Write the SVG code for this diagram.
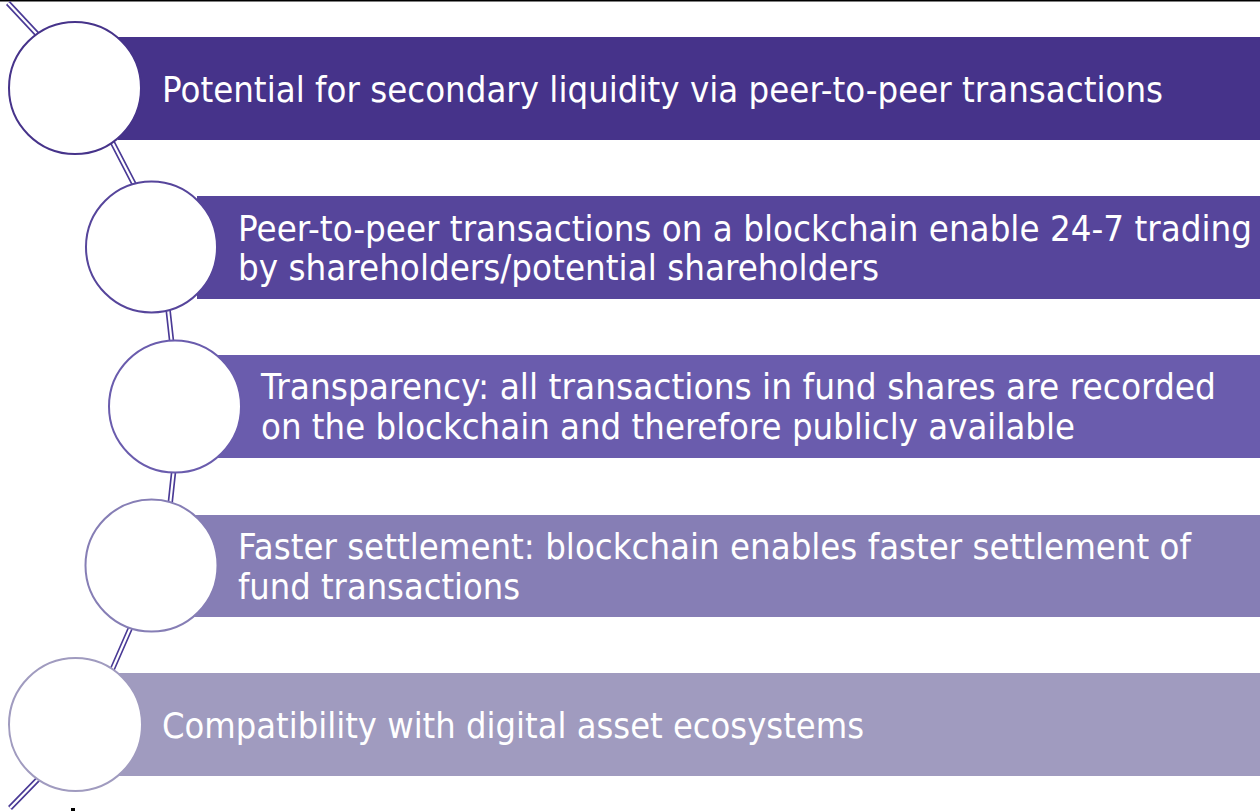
<svg xmlns="http://www.w3.org/2000/svg" width="1260" height="811" viewBox="0 0 1260 811">
<style>
.lbl{font-family:"DejaVu Sans","Liberation Sans",sans-serif;font-size:35px;fill:#ffffff}
.conn-o{stroke:#4a3a96;stroke-width:5.5;fill:none;stroke-linecap:butt}
.conn-i{stroke:#ffffff;stroke-width:2.2;fill:none;stroke-linecap:butt}
.bead{fill:#ffffff;stroke-width:2}
</style>
<rect x="0" y="0" width="1260" height="811" fill="#ffffff"/>
<rect x="0" y="0" width="1260" height="1.5" fill="#000000"/>
<g id="connectors">
  <path class="conn-o" d="M8,3 L50,48 M105,128 L135,186 M167,300 L172,345 M174,468 L170,505 M133,622 L112,670 M45,772 L10,808"/>
  <path class="conn-i" d="M8,3 L50,48 M105,128 L135,186 M167,300 L172,345 M174,468 L170,505 M133,622 L112,670 M45,772 L10,808"/>
</g>
<g id="node1">
  <rect x="118" y="37" width="1142" height="103" fill="#46338a"/>
  <circle class="bead" cx="75" cy="88" r="66" stroke="#46338a"/>
  <text class="lbl" x="162" y="101.5" textLength="1001" lengthAdjust="spacingAndGlyphs">Potential for secondary liquidity via peer-to-peer transactions</text>
</g>
<g id="node2">
  <rect x="197" y="196" width="1063" height="103" fill="#56459b"/>
  <circle class="bead" cx="151.5" cy="247" r="65.5" stroke="#56459b"/>
  <text class="lbl" x="238" y="240.5" textLength="1014" lengthAdjust="spacingAndGlyphs">Peer-to-peer transactions on a blockchain enable 24-7 trading</text>
  <text class="lbl" x="238" y="280" textLength="641" lengthAdjust="spacingAndGlyphs">by shareholders/potential shareholders</text>
</g>
<g id="node3">
  <rect x="218" y="355" width="1042" height="103" fill="#6a5cad"/>
  <circle class="bead" cx="175" cy="406.5" r="66" stroke="#6a5cad"/>
  <text class="lbl" x="261" y="399" textLength="955" lengthAdjust="spacingAndGlyphs">Transparency: all transactions in fund shares are recorded</text>
  <text class="lbl" x="261" y="439" textLength="814" lengthAdjust="spacingAndGlyphs">on the blockchain and therefore publicly available</text>
</g>
<g id="node4">
  <rect x="193" y="515" width="1067" height="102" fill="#867eb5"/>
  <circle class="bead" cx="151.5" cy="565.5" r="66" stroke="#867eb5"/>
  <text class="lbl" x="238" y="559" textLength="953" lengthAdjust="spacingAndGlyphs">Faster settlement: blockchain enables faster settlement of</text>
  <text class="lbl" x="238" y="598.5" textLength="282" lengthAdjust="spacingAndGlyphs">fund transactions</text>
</g>
<g id="node5">
  <rect x="115" y="673" width="1145" height="103" fill="#a09bbf"/>
  <circle class="bead" cx="75.5" cy="724.5" r="66.5" stroke="#a09bbf"/>
  <text class="lbl" x="162" y="737.5" textLength="702" lengthAdjust="spacingAndGlyphs">Compatibility with digital asset ecosystems</text>
</g>
<rect x="71" y="808" width="4" height="3" fill="#000000"/>
</svg>
